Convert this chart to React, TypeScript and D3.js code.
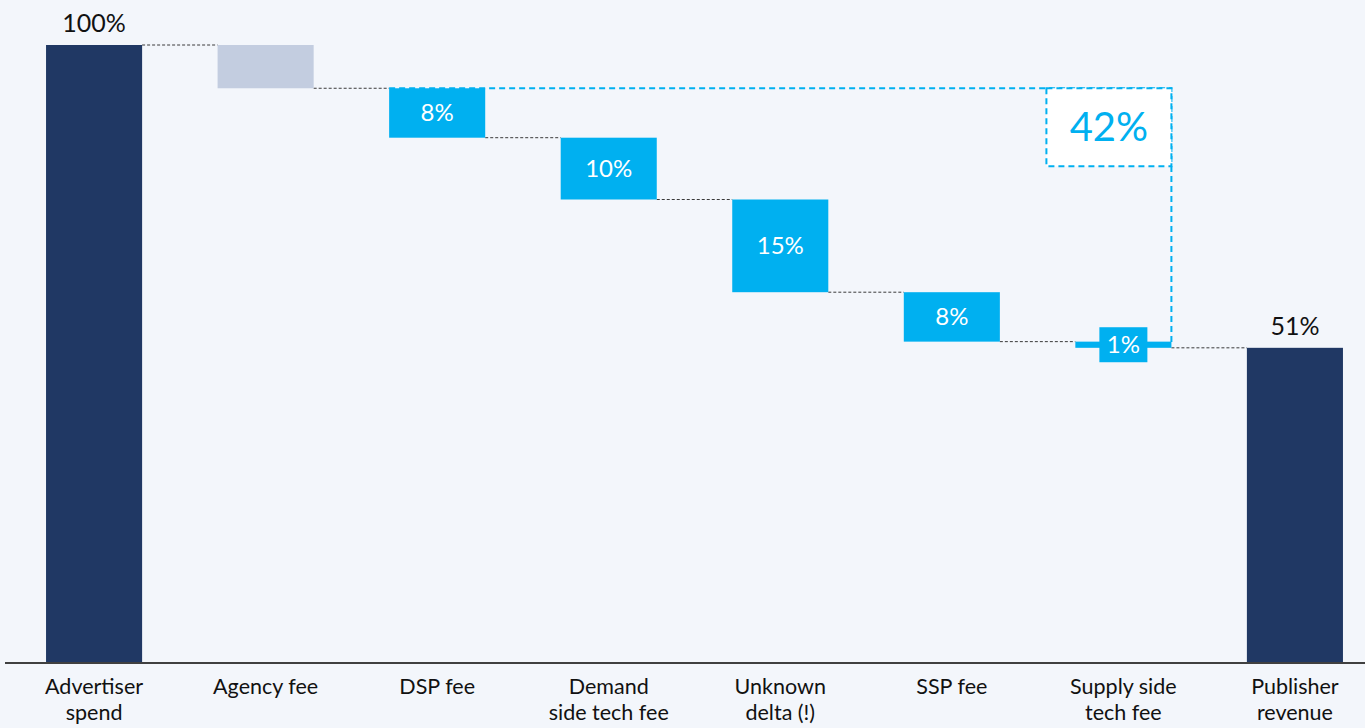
import React from 'react';
import * as d3 from 'd3';

// waterfall data
const categories = ['Advertiser spend', 'Agency fee', 'DSP fee', 'Demand side tech fee', 'Unknown delta (!)', 'SSP fee', 'Supply side tech fee', 'Publisher revenue'];
const categoryLines = [['Advertiser', 'spend'], ['Agency fee'], ['DSP fee'], ['Demand', 'side tech fee'], ['Unknown', 'delta (!)'], ['SSP fee'], ['Supply side', 'tech fee'], ['Publisher', 'revenue']];
const values = [100, 7, 8, 10, 15, 8, 1, 51];
const kinds = ['total', 'agency', 'fee', 'fee', 'fee', 'fee', 'fee', 'total'];
const valueLabels = ['100%', '', '8%', '10%', '15%', '8%', '1%', '51%'];
const bracketLabel = '42%';

const W = 1365;
const H = 728;
const FONT = 'Lato, "Noto Sans", sans-serif';
const NAVY = '#203864';
const LIGHT = '#C3CDE0';
const BLUE = '#00B0F0';

function buildBars() {
    let level = 0;
    return values.map((v, i) => {
        let lo, hi;
        if (kinds[i] === 'total') {
            lo = 0; hi = v; level = v;
        } else {
            hi = level; lo = level - v; level = lo;
        }
        return { name: categories[i], lines: categoryLines[i], kind: kinds[i], lo, hi, label: valueLabels[i] };
    });
}

export default function App() {
    const bars = buildBars();

    const x = d3.scaleBand()
        .domain(categories)
        .range([8.3, 1380.7])
        .paddingInner(0.44)
        .paddingOuter(0.22);

    const y = d3.scaleLinear()
        .domain([0, 100])
        .range([663, 45]);

    const bw = x.bandwidth();
    const fill = k => k === 'total' ? NAVY : k === 'agency' ? LIGHT : BLUE;

    // 42% bracket goes from top of DSP fee to the supply side tech fee
    const firstFee = bars[2];
    const lastFee = bars[6];
    const bx0 = x(firstFee.name);
    const bx1 = x(lastFee.name) + bw;
    const by0 = y(firstFee.hi);
    const by1 = (y(lastFee.hi) + y(lastFee.lo)) / 2;

    return (
        <svg width={W} height={H} style={{ position: 'fixed', left: 0, top: 0, display: 'block' }}
            fontFamily={FONT}>
            <rect x={0} y={0} width={W} height={H} fill="#F3F6FB" />

            {/* connectors */}
            {bars.slice(0, -1).map((b, i) => {
                const next = bars[i + 1];
                const lvl = b.kind === 'total' ? b.hi : b.lo;
                return (
                    <line key={'c' + i}
                        x1={x(b.name) + bw} x2={x(next.name)}
                        y1={y(lvl)} y2={y(lvl)}
                        stroke="#3a3a3a" strokeWidth={1} strokeDasharray="3,2" />
                );
            })}

            {/* bracket */}
            <path d={`M${bx0},${by0}H${bx1}V${by1}`} fill="none"
                stroke={BLUE} strokeWidth={2} strokeDasharray="6,4" />

            {/* bars */}
            {bars.map(b => (
                <rect key={b.name}
                    x={x(b.name)} y={y(b.hi)}
                    width={bw} height={y(b.lo) - y(b.hi)}
                    fill={fill(b.kind)} />
            ))}

            {/* value labels */}
            {bars.map(b => {
                if (!b.label) return null;
                const cx = x(b.name) + bw / 2;
                if (b.kind === 'total') {
                    return (
                        <text key={'v' + b.name} x={cx} y={y(b.hi) - 13}
                            textAnchor="middle" fontSize={25} fill="#111">{b.label}</text>
                    );
                }
                const h = y(b.lo) - y(b.hi);
                const cy = (y(b.lo) + y(b.hi)) / 2;
                if (h < 20) {
                    return (
                        <g key={'v' + b.name}>
                            <rect x={cx - 24} y={cy - 17.5} width={48} height={35} fill={BLUE} />
                            <text x={cx} y={cy} dy="0.35em" textAnchor="middle"
                                fontSize={24} fill="#fff">{b.label}</text>
                        </g>
                    );
                }
                return (
                    <text key={'v' + b.name} x={cx} y={cy} dy="0.35em"
                        textAnchor="middle" fontSize={24} fill="#fff">{b.label}</text>
                );
            })}

            {/* 42% box */}
            <rect x={bx1 - 125} y={by0} width={125} height={78}
                fill="#fff" stroke={BLUE} strokeWidth={2} strokeDasharray="6,4" />
            <text x={bx1 - 62.5} y={by0 + 39} dy="0.35em" textAnchor="middle"
                fontSize={40} fill={BLUE}>{bracketLabel}</text>

            {/* axis line */}
            <line x1={5} x2={W} y1={y(0)} y2={y(0)} stroke="#404040" strokeWidth={2} />

            {/* category labels, one text per line */}
            {bars.map(b => b.lines.map((ln, j) => (
                <text key={'l' + b.name + j} x={x(b.name) + bw / 2} y={694 + j * 26}
                    textAnchor="middle" fontSize={21.5} fill="#111">{ln}</text>
            )))}
        </svg>
    );
}
